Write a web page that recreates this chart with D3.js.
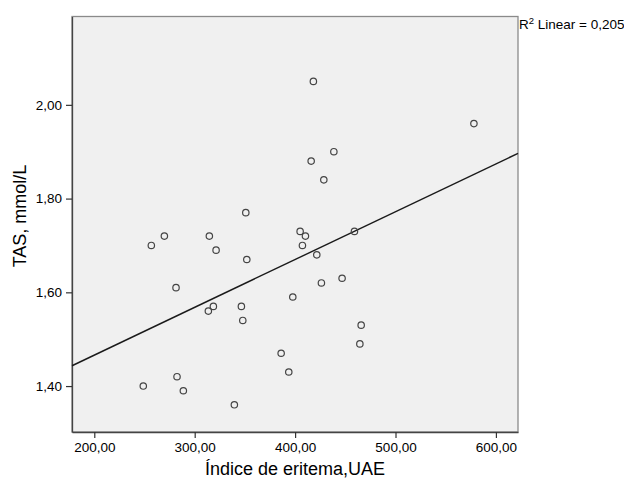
<!DOCTYPE html>
<html>
<head>
<meta charset="utf-8">
<script src="https://cdn.jsdelivr.net/npm/d3@7"></script>
<style>
  body { margin: 0; background: #fff; }
  text { font-family: "Liberation Sans", Arial, sans-serif; fill: #000; }
</style>
</head>
<body>
<svg id="chart" width="624" height="479"></svg>
<script>
// data
var eritema = [418.2, 578.1, 438.6, 416.0, 428.6, 350.9, 269.8, 314.6, 405.0, 410.3, 256.8,
  321.3, 407.3, 459.1, 421.6, 351.9, 281.4, 397.7, 426.2, 446.8, 318.6, 313.6, 346.5,
  347.9, 465.8, 464.5, 386.1, 393.7, 248.8, 282.4, 288.7, 339.5];
var tas = [2.05, 1.96, 1.90, 1.88, 1.84, 1.77, 1.72, 1.72, 1.73, 1.72, 1.70,
  1.69, 1.70, 1.73, 1.68, 1.67, 1.61, 1.59, 1.62, 1.63, 1.57, 1.56, 1.57,
  1.54, 1.53, 1.49, 1.47, 1.43, 1.40, 1.42, 1.39, 1.36];
var xTicks = [200, 300, 400, 500, 600];
var yTicks = [1.40, 1.60, 1.80, 2.00];
var fitIntercept = 1.262, fitSlope = 0.00102;
var r2Label = "0,205";

var svg = d3.select("#chart");
// plot box (don't use "top", it's window.top)
var pL = 72, pR = 518, pT = 16.5, pB = 432;

var x = d3.scaleLinear().domain([177.8, 622]).range([pL, pR]);
var y = d3.scaleLinear().domain([1.302, 2.1885]).range([pB, pT]);

var comma = function(d){ return d3.format(".2f")(d).replace(".", ","); };

// plot background + frame
svg.append("rect")
  .attr("x", pL).attr("y", pT)
  .attr("width", pR - pL).attr("height", pB - pT)
  .attr("fill", "#f0f0f0")
  .attr("stroke", "#8a8a8a")
  .attr("stroke-width", 1.3);

// axes
var gx = svg.append("g")
  .attr("transform", "translate(0," + pB + ")")
  .call(d3.axisBottom(x).tickValues(xTicks).tickSizeInner(6).tickSizeOuter(0).tickPadding(4).tickFormat(comma));
var gy = svg.append("g")
  .attr("transform", "translate(" + pL + ",0)")
  .call(d3.axisLeft(y).tickValues(yTicks).tickSizeInner(6).tickSizeOuter(0).tickPadding(4).tickFormat(comma));

[gx, gy].forEach(function(g){
  g.select(".domain").attr("stroke", "#444").attr("stroke-width", 1.3);
  g.selectAll(".tick line").attr("stroke", "#333").attr("stroke-width", 1.2);
  g.selectAll(".tick text")
    .style("font-family", "'Liberation Sans', Arial, sans-serif")
    .style("font-size", "13.5px")
    .attr("fill", "#111");
});

// fit line
var xd = x.domain();
svg.append("line")
  .attr("x1", x(xd[0])).attr("y1", y(fitIntercept + fitSlope * xd[0]))
  .attr("x2", x(xd[1])).attr("y2", y(fitIntercept + fitSlope * xd[1]))
  .attr("stroke", "#1a1a1a")
  .attr("stroke-width", 1.4);

// points
svg.append("g").selectAll("circle")
  .data(eritema)
  .join("circle")
  .attr("cx", function(d){ return x(d); })
  .attr("cy", function(d, i){ return y(tas[i]); })
  .attr("r", 3.2)
  .attr("fill", "none")
  .attr("stroke", "#444")
  .attr("stroke-width", 1.2);

// titles
svg.append("text")
  .attr("x", (pL + pR) / 2).attr("y", 475)
  .attr("text-anchor", "middle")
  .style("font-size", "18px")
  .text("Índice de eritema,UAE");

svg.append("text")
  .attr("transform", "translate(26,216) rotate(-90)")
  .attr("text-anchor", "middle")
  .style("font-size", "18px")
  .text("TAS, mmol/L");

var r2 = svg.append("text")
  .attr("x", pR + 1).attr("y", 29)
  .style("font-size", "13.5px");
r2.append("tspan").text("R");
r2.append("tspan").attr("dy", -5).style("font-size", "9.5px").text("2");
r2.append("tspan").attr("dy", 5).text(" Linear = " + r2Label);
</script>
</body>
</html>
